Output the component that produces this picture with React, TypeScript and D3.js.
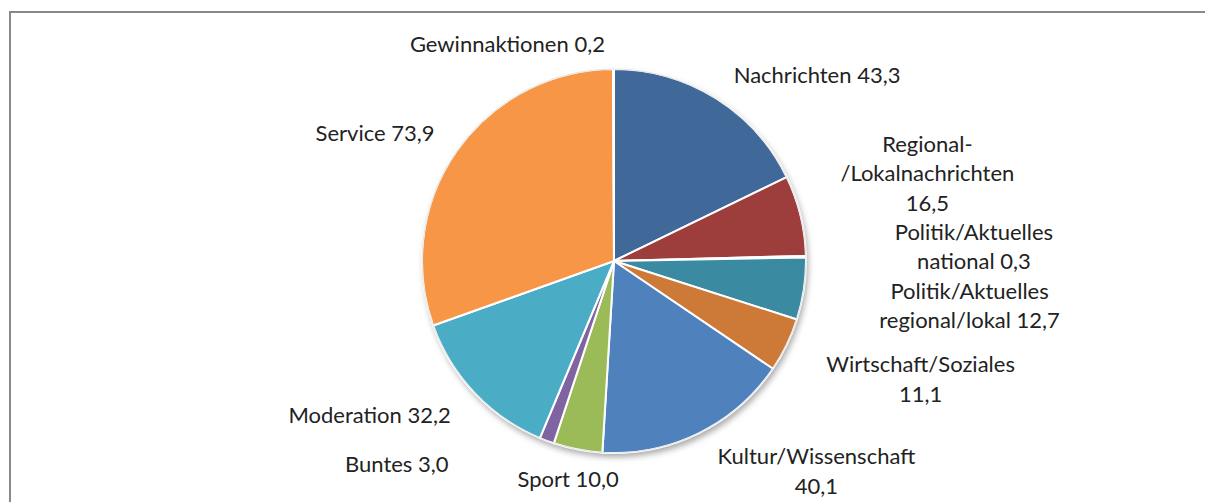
import React from "react";
import * as d3 from "d3";

// categories clockwise from 12 o'clock
const categories = [
  "Nachrichten",
  "Regional-/Lokalnachrichten",
  "Politik/Aktuelles national",
  "Politik/Aktuelles regional/lokal",
  "Wirtschaft/Soziales",
  "Kultur/Wissenschaft",
  "Sport",
  "Buntes",
  "Moderation",
  "Service",
  "Gewinnaktionen",
];
const values = [43.3, 16.5, 0.3, 12.7, 11.1, 40.1, 10.0, 3.0, 32.2, 73.9, 0.2];
const colors = [
  "#40699A",
  "#9D3E3D",
  "#7F9C47",
  "#3A8BA2",
  "#CD7A39",
  "#4F81BD",
  "#9BBB59",
  "#8064A2",
  "#4BACC6",
  "#F79646",
  "#664F86",
];

// how each label is broken into lines ({v} = value)
const labelLines = [
  ["Nachrichten {v}"],
  ["Regional-", "/Lokalnachrichten", "{v}"],
  ["Politik/Aktuelles", "national {v}"],
  ["Politik/Aktuelles", "regional/lokal {v}"],
  ["Wirtschaft/Soziales", "{v}"],
  ["Kultur/Wissenschaft", "{v}"],
  ["Sport {v}"],
  ["Buntes {v}"],
  ["Moderation {v}"],
  ["Service {v}"],
  ["Gewinnaktionen {v}"],
];
// nudges from the outside-end anchor point (Excel best-fit placement)
const labelNudge: [number, number][] = [
  [80, 19],
  [88, -54],
  [128, -16],
  [126, 4],
  [98, 10],
  [100, -5],
  [-2, -2],
  [-136, -6],
  [-76, 2],
  [-49, 13],
  [-106, 23],
];

const W = 1205;
const H = 502;
const cx = 614;
const cy = 261;
const radius = 192;
const lineH = 29.5;

const fmt = d3.formatLocale({
  decimal: ",",
  thousands: ".",
  grouping: [3],
  currency: ["", "€"],
}).format(".1f");

type Slice = { name: string; value: number; i: number };

export default function App() {
  const data: Slice[] = categories.map((name, i) => ({ name, value: values[i], i }));
  const pie = d3
    .pie<Slice>()
    .value((d) => d.value)
    .sort(null);
  const arcs = pie(data);
  const arc = d3.arc<d3.PieArcDatum<Slice>>().innerRadius(0).outerRadius(radius);
  const labelArc = d3
    .arc<d3.PieArcDatum<Slice>>()
    .innerRadius(radius + 40)
    .outerRadius(radius + 40);

  return (
    <svg
      width={W}
      height={H}
      viewBox={`0 0 ${W} ${H}`}
      style={{ position: "absolute", left: 0, top: 0, display: "block" }}
    >
      <defs>
        <filter id="shadow" x="-20%" y="-20%" width="140%" height="140%">
          <feDropShadow dx="2" dy="4" stdDeviation="3" floodColor="#000" floodOpacity="0.35" />
        </filter>
      </defs>
      <rect x={0} y={0} width={W} height={H} fill="#fff" />
      <rect x={10} y={12} width={W + 50} height={H + 50} fill="#fff" stroke="#898989" strokeWidth={2} />

      <g transform={`translate(${cx},${cy})`}>
        <circle r={radius} fill="#fff" filter="url(#shadow)" />
        {arcs.map((a) => (
          <path
            key={a.data.name}
            d={arc(a) ?? ""}
            fill={colors[a.data.i]}
            stroke="#fff"
            strokeWidth={2}
            strokeLinejoin="round"
          />
        ))}
        <circle r={radius} fill="none" stroke="#e4e4e4" strokeWidth={1} />
      </g>

      <g fontFamily="Lato, 'Open Sans', sans-serif" fontSize={22} fill="#222" textAnchor="middle">
        {arcs.map((a) => {
          const [px, py] = labelArc.centroid(a);
          const [dx, dy] = labelNudge[a.data.i];
          const lines = labelLines[a.data.i].map((l) => l.replace("{v}", fmt(a.data.value)));
          return (
            <text key={a.data.name} x={cx + px + dx} y={cy + py + dy}>
              {lines.map((l, k) => (
                <tspan key={k} x={cx + px + dx} dy={k === 0 ? 0 : lineH}>
                  {l}
                </tspan>
              ))}
            </text>
          );
        })}
      </g>
    </svg>
  );
}
